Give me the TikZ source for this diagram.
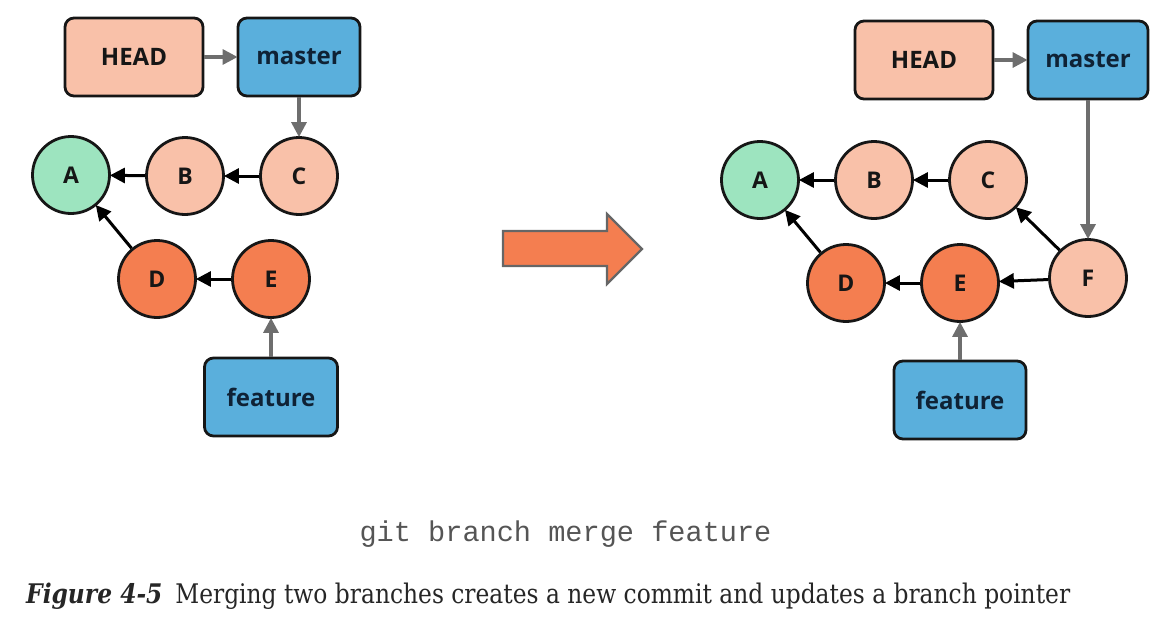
\documentclass[tikz,border=0pt]{standalone}
\usepackage{fontspec}
\usepackage{graphicx}
\usetikzlibrary{arrows.meta}
\newfontfamily\lblfont{Open Sans}
\newfontfamily\capfont{DejaVu Serif}
\newfontfamily\cmdfont{Liberation Mono}
\definecolor{salmon}{HTML}{F9C1A9}
\definecolor{bluebox}{HTML}{5AAFDC}
\definecolor{greenc}{HTML}{9DE4BF}
\definecolor{orangec}{HTML}{F47E50}
\definecolor{edgec}{HTML}{161616}
\definecolor{grayarr}{HTML}{6E6E6E}
\definecolor{navy}{HTML}{0F2235}
\definecolor{cmdgray}{HTML}{555555}
\definecolor{captxt}{HTML}{262626}
\tikzset{
  ptr/.style={draw=edgec, line width=2.8pt, rounded corners=9pt, minimum height=78pt,
    inner sep=0pt, font=\lblfont\bfseries\fontsize{24}{27}\selectfont},
  headbox/.style={ptr, fill=salmon, text=edgec, minimum width=138pt},
  branchbox/.style={ptr, fill=bluebox, text=navy},
  commit/.style={circle, draw=edgec, line width=2.8pt, minimum size=77pt, inner sep=0pt,
    text=edgec, font=\lblfont\bfseries\fontsize{23}{26}\selectfont},
  cA/.style={commit, fill=greenc},
  cB/.style={commit, fill=salmon},
  cD/.style={commit, fill=orangec},
  parent/.style={draw=black, line width=3pt, -{Triangle[length=15pt,width=15pt]}, shorten >=-1pt},
  ref/.style={draw=grayarr, line width=3.2pt, -{Triangle[length=15pt,width=15pt]}, shorten >=-1pt},
  bigarrow/.style={fill=orangec, draw=cmdgray!90, line width=2.2pt, line join=miter},
}
\begin{document}
\begin{tikzpicture}[x=1pt,y=-1pt]
\path[use as bounding box] (0,0) rectangle (1159,619);

% ---------- left (before) ----------
\node[headbox] (lhead) at (134,57) {HEAD};
\node[branchbox, minimum width=122pt] (lmaster) at (299,57) {master};
\node[cA] (lA) at (71,175) {A};
\node[cB] (lB) at (185,176) {B};
\node[cB] (lC) at (299,176) {C};
\node[cD] (lD) at (157,279) {D};
\node[cD] (lE) at (271,279) {E};
\node[branchbox, minimum width=133pt] (lfeat) at (271,397) {feature};

\draw[ref] (lhead) -- (lmaster);
\draw[ref] (lmaster) -- (lC);
\draw[parent] (lB) -- (lA);
\draw[parent] (lC) -- (lB);
\draw[parent] (lD) -- (lA);
\draw[parent] (lE) -- (lD);
\draw[ref] (lfeat) -- (lE);

% ---------- big arrow ----------
\draw[bigarrow] (503,231) -- (607,231) -- (607,214) -- (642,249) -- (607,284) -- (607,266) -- (503,266) -- cycle;

% ---------- right (after) ----------
\node[headbox] (rhead) at (924,60) {HEAD};
\node[branchbox, minimum width=120pt] (rmaster) at (1088,60) {master};
\node[cA] (rA) at (760,180) {A};
\node[cB] (rB) at (874,180) {B};
\node[cB] (rC) at (988,180) {C};
\node[cD] (rD) at (846,283) {D};
\node[cD] (rE) at (960,283) {E};
\node[cB] (rF) at (1088,278) {F};
\node[branchbox, minimum width=132pt] (rfeat) at (960,400) {feature};

\draw[ref] (rhead) -- (rmaster);
\draw[ref] (rmaster) -- (rF);
\draw[parent] (rB) -- (rA);
\draw[parent] (rC) -- (rB);
\draw[parent] (rD) -- (rA);
\draw[parent] (rE) -- (rD);
\draw[parent] (rF) -- (rE);
\draw[parent] (rF) -- (rC);
\draw[ref] (rfeat) -- (rE);

% ---------- texts ----------
\node[anchor=base, inner sep=0pt, text=cmdgray, font=\cmdfont\fontsize{28.6}{30}\selectfont] (cmd) at (565.5,541) {git branch merge feature};
\node[anchor=base west, inner sep=0pt, text=captxt] (cap) at (26,603)
  {\resizebox{1044pt}{\height}{\capfont\fontsize{27}{30}\selectfont\textbf{\textit{Figure 4-5}}\hspace{0.55em}Merging two branches creates a new commit and updates a branch pointer}};
\end{tikzpicture}
\end{document}
